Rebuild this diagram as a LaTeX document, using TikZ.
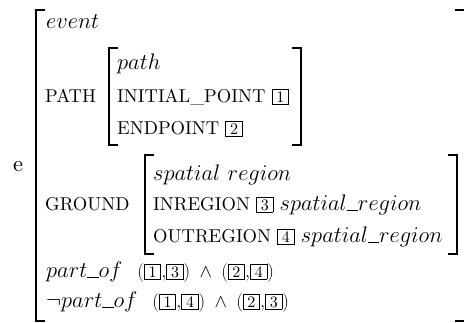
\RequirePackage{fix-cm}
\documentclass[tikz,border=0pt]{standalone}
\usepackage{amssymb}
\usepackage[no-math]{fontspec}
\setmainfont{lmroman10-regular.otf}[ItalicFont=lmroman10-italic.otf]
\newcommand{\bx}[1]{{\setlength\fboxsep{0pt}\setlength\fboxrule{0.9pt}\fbox{\makebox[15.5pt]{\rule[-1pt]{0pt}{14.5pt}\fontsize{16}{18}\selectfont #1}}}}
\newcommand{\us}{\rule[-0.5pt]{0.5em}{0.05em}}
\newcommand{\bigtxt}{\fontsize{22.5}{26}\selectfont}
\newcommand{\smtxt}{\fontsize{18.6}{22}\selectfont}
\tikzset{
  txt/.style={anchor=base west, inner sep=0pt, font=\bigtxt},
  attr/.style={anchor=base west, inner sep=0pt, font=\smtxt},
  brk/.style={line width=1.1pt, line cap=rect}
}
\begin{document}
\begin{tikzpicture}[x=1pt,y=-1pt]
\useasboundingbox (0,0) rectangle (464,323);
% outer structure
\node[txt] (event) at (46,29) {$event$};
\node[txt] (e) at (13,172) {e};
% PATH
\node[attr] (PATH) at (45,103) {PATH};
\node[txt] (path) at (117,70) {$path$};
\node[attr] (ip) at (117,103) {INITIAL\_POINT \bx{1}};
\node[attr] (ep) at (117,135) {ENDPOINT \bx{2}};
% GROUND
\node[attr] (GROUND) at (45,211) {GROUND};
\node[txt] (sr) at (153,181) {$spatial\ region$};
\node[attr] (inr) at (153,211) {INREGION \bx{3} {\bigtxt$spatial\us region$}};
\node[attr] (outr) at (153,243) {OUTREGION \bx{4} {\bigtxt$spatial\us region$}};
% relations
\node[txt] (po) at (46,278) {$part\us of$\hspace{15pt}{\smtxt$(\bx{1}{,}\bx{3})\;\wedge\;(\bx{2}{,}\bx{4})$}};
\node[txt] (npo) at (46,308) {$\neg part\us of$\hspace{15pt}{\smtxt$(\bx{1}{,}\bx{4})\;\wedge\;(\bx{2}{,}\bx{3})$}};
% brackets
\draw[brk] (44,10) -- (36,10) -- (36,321) -- (44,321);
\draw[brk] (456,10) -- (467,10) -- (467,321) -- (456,321);
\draw[brk] (117,48) -- (109,48) -- (109,145) -- (117,145);
\draw[brk] (293,48) -- (301,48) -- (301,145) -- (293,145);
\draw[brk] (153,155) -- (145,155) -- (145,254) -- (153,254);
\draw[brk] (449,155) -- (457,155) -- (457,254) -- (449,254);
\end{tikzpicture}
\end{document}
